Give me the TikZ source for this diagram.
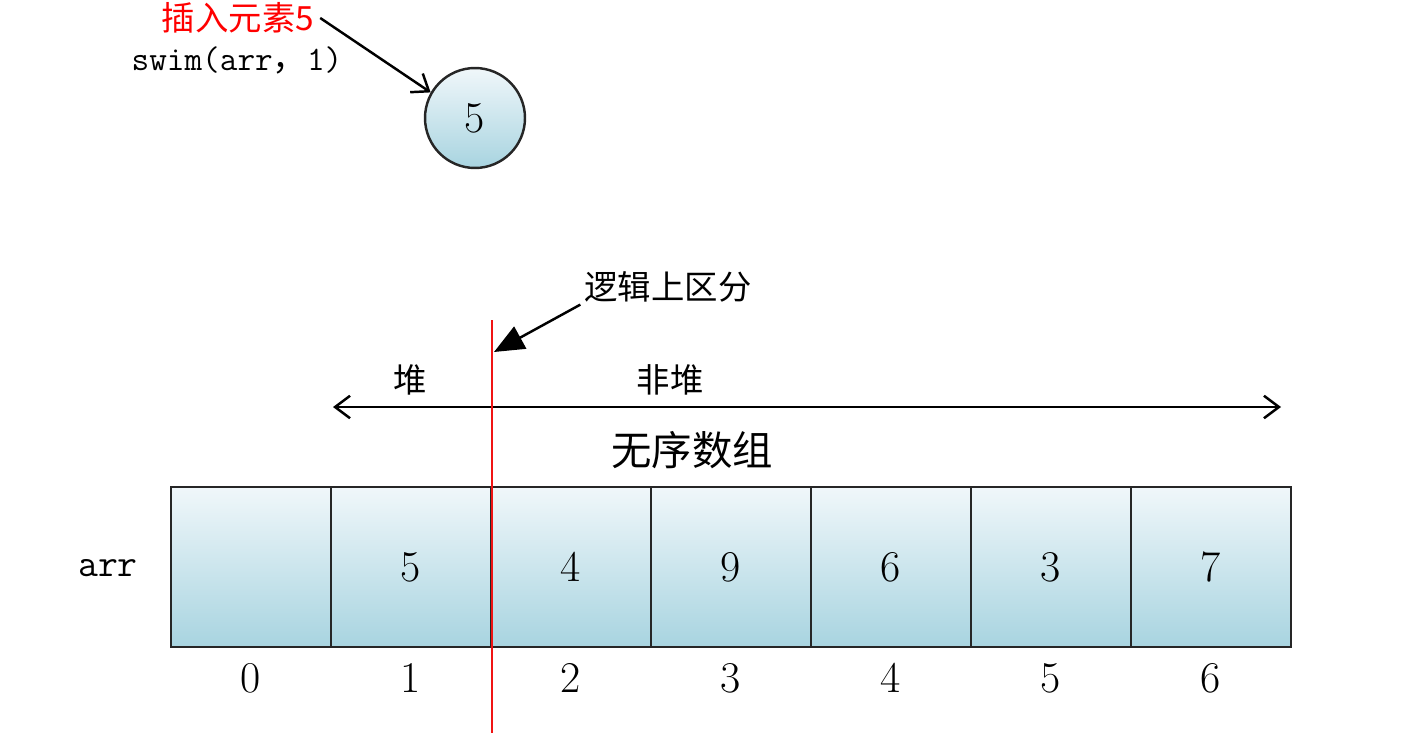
\documentclass[tikz,border=0pt]{standalone}
\usepackage{fontspec}
\newfontfamily\cjk{Noto Sans CJK SC}
\usetikzlibrary{arrows.meta, positioning}

\definecolor{cellTop}{RGB}{240,247,250}
\definecolor{cellBot}{RGB}{168,212,224}
\definecolor{splitRed}{RGB}{240,20,20}

\begin{document}
\begin{tikzpicture}[
    x=0.02cm, y=-0.02cm,
    cell/.style={rectangle, draw=black!85, line width=1.4pt, top color=cellTop, bottom color=cellBot, minimum width=3.2cm, minimum height=3.2cm, inner sep=0pt, font=\fontsize{25}{30}\selectfont},
    ball/.style={circle, draw=black!85, line width=1.4pt, top color=cellTop, bottom color=cellBot, minimum size=2cm, inner sep=0pt, font=\fontsize{25}{30}\selectfont},
    idx/.style={font=\fontsize{25}{30}\selectfont},
    note/.style={font=\cjk\fontsize{19}{23}\selectfont},
    arrow/.style={-{Straight Barb[length=3mm, width=4.5mm]}, line width=1.4pt},
    twoway/.style={{Straight Barb[length=3mm, width=4.5mm]}-{Straight Barb[length=3mm, width=4.5mm]}, line width=1.4pt},
    pointer/.style={-{Triangle[length=6mm, width=5mm]}, line width=1.4pt}
]
\useasboundingbox (0,0) rectangle (1421,747);

% Nodes
\node (insert) [note, text=red] at (238,18) {插入元素5};
\node (call) [font=\ttfamily\fontsize{19.5}{24}\selectfont] at (237,60) {swim(arr{\cjk，}1)};
\node (elem) [ball] at (475,118) {5};

\node (logic) [note] at (668,287) {逻辑上区分};
\node (heap) [note] at (410,380) {堆};
\node (nonheap) [note] at (670,380) {非堆};
\node (title) [font=\cjk\fontsize{23}{28}\selectfont] at (692,450) {无序数组};
\node (arr) [font=\ttfamily\fontsize{22}{26}\selectfont] at (108,568) {arr};

\foreach \v [count=\i from 0] in {{},5,4,9,6,3,7} {
    \node (c\i) [cell] at (251+160*\i,567) {\v};
    \node (i\i) [idx, below=5pt of c\i] {\i};
}

\coordinate (splitTop) at (492,320);
\coordinate (splitBot) at (492,733);
\coordinate (splitTip) at (494,352);
\coordinate (heapL) at (333,407);
\coordinate (heapR) at (1281,407);

% Arrows
\draw [arrow] (insert.east) -- (elem.150);
\draw [twoway] (heapL) -- (heapR);
\draw [splitRed, line width=1.3pt] (splitTop) -- (splitBot);
\draw [pointer] (logic.south west) ++(2,-4) coordinate (logicFoot) (logicFoot) -- (splitTip);

\end{tikzpicture}
\end{document}
